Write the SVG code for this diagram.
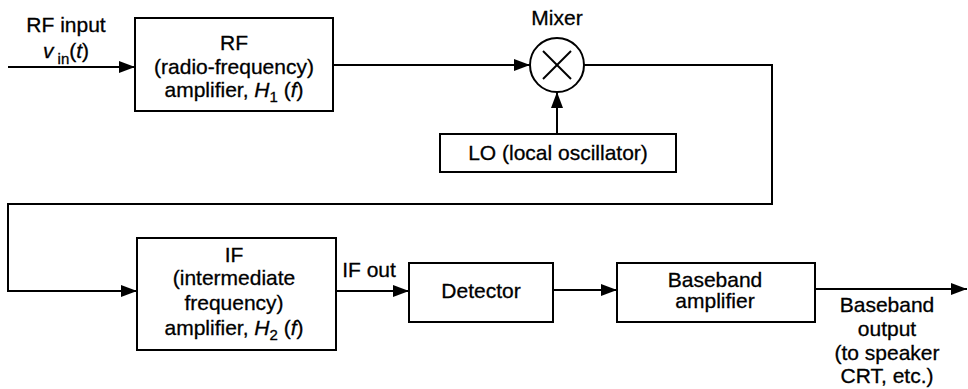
<svg xmlns="http://www.w3.org/2000/svg" width="968" height="389" viewBox="0 0 968 389">
<defs>
<marker id="arr" markerUnits="userSpaceOnUse" markerWidth="16" markerHeight="12" refX="16" refY="6" orient="auto">
<path d="M0,0 L16,6 L0,12 z" fill="#000"/>
</marker>
<style>
.box{fill:#fff;stroke:#000;stroke-width:2}
.ln{fill:none;stroke:#000;stroke-width:2}
.t{font-family:"Liberation Sans",Arial,sans-serif;font-size:21px;fill:#000;text-anchor:middle;stroke:#000;stroke-width:0.3}
.i{font-style:italic}
.sub{font-size:15px}
</style>
</defs>
<rect width="968" height="389" fill="#fff"/>
<g id="connectors">
<line class="ln" x1="8" y1="67" x2="135" y2="67" marker-end="url(#arr)"/>
<line class="ln" x1="333" y1="65" x2="530" y2="65" marker-end="url(#arr)"/>
<line class="ln" x1="557" y1="134" x2="557" y2="92" marker-end="url(#arr)"/>
<polyline class="ln" points="584,65 772,65 772,204 8,204 8,291 137,291" marker-end="url(#arr)"/>
<line class="ln" x1="336" y1="291" x2="409" y2="291" marker-end="url(#arr)"/>
<line class="ln" x1="553" y1="290" x2="617" y2="290" marker-end="url(#arr)"/>
<line class="ln" x1="815" y1="289" x2="967" y2="289" marker-end="url(#arr)"/>
</g>
<g id="rf-input-label">
<text class="t" x="66" y="32">RF input</text>
<text class="t" x="66" y="58"><tspan class="i">v</tspan><tspan class="sub" dy="6"> in</tspan><tspan dy="-6">(</tspan><tspan class="i">t</tspan>)</text>
</g>
<g id="rf-amp">
<rect class="box" x="135" y="18" width="198" height="93"/>
<text class="t" x="234" y="50">RF</text>
<text class="t" x="234" y="74">(radio-frequency)</text>
<text class="t" x="234" y="97">amplifier, <tspan class="i">H</tspan><tspan class="sub" dy="5">1</tspan><tspan dy="-5">  (</tspan><tspan class="i">f</tspan>)</text>
</g>
<g id="mixer">
<text class="t" x="557" y="25">Mixer</text>
<circle class="ln" cx="557" cy="65" r="27" fill="#fff"/>
<line class="ln" x1="543" y1="51" x2="571" y2="79"/>
<line class="ln" x1="571" y1="51" x2="543" y2="79"/>
</g>
<g id="lo">
<rect class="box" x="440" y="134" width="236" height="38"/>
<text class="t" x="558" y="160">LO (local oscillator)</text>
</g>
<g id="if-amp">
<rect class="box" x="137" y="238" width="199" height="112"/>
<text class="t" x="234" y="262">IF</text>
<text class="t" x="234" y="285">(intermediate</text>
<text class="t" x="234" y="310">frequency)</text>
<text class="t" x="234" y="335">amplifier, <tspan class="i">H</tspan><tspan class="sub" dy="5">2</tspan><tspan dy="-5"> (</tspan><tspan class="i">f</tspan>)</text>
</g>
<g id="if-out-label">
<text class="t" x="369" y="277">IF out</text>
</g>
<g id="detector">
<rect class="box" x="409" y="263" width="144" height="59"/>
<text class="t" x="481" y="298">Detector</text>
</g>
<g id="baseband-amp">
<rect class="box" x="617" y="263" width="198" height="59"/>
<text class="t" x="715" y="287">Baseband</text>
<text class="t" x="715" y="308">amplifier</text>
</g>
<g id="baseband-output-label">
<text class="t" x="887" y="312">Baseband</text>
<text class="t" x="887" y="336">output</text>
<text class="t" x="887" y="360">(to speaker</text>
<text class="t" x="887" y="383">CRT, etc.)</text>
</g>
</svg>
